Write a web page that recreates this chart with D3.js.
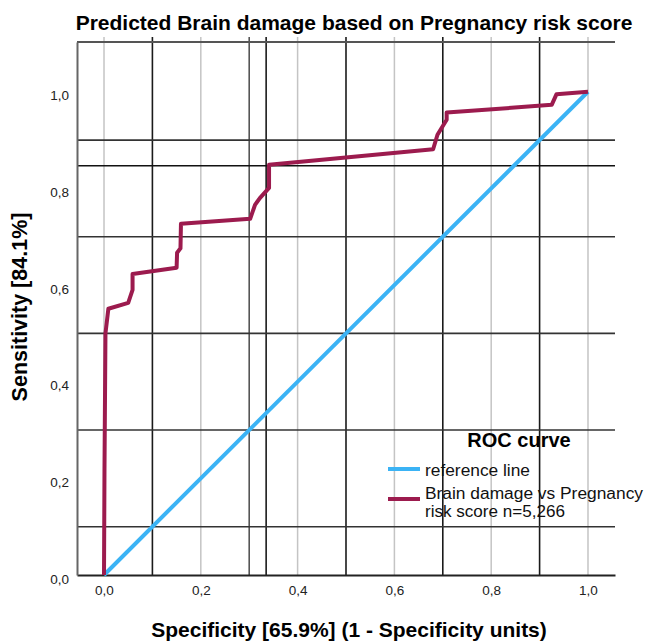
<!DOCTYPE html>
<html>
<head>
<meta charset="utf-8">
<script src="https://cdn.jsdelivr.net/npm/d3@7"></script>
<style>
  body { margin: 0; background: #fff; }
  text { font-family: "Liberation Sans", Arial, sans-serif; }
</style>
</head>
<body>
<div class="graph"></div>
<script>
// ROC curve points (1 - specificity, sensitivity)
var rocFpr = [0, 0.001, 0.002, 0.003, 0.009, 0.050, 0.059, 0.059, 0.150, 0.151, 0.158, 0.159,
              0.302, 0.312, 0.322, 0.341, 0.341, 0.680, 0.689, 0.708, 0.708, 0.925, 0.935, 1];
var rocTpr = [0, 0.22, 0.36, 0.50, 0.551, 0.563, 0.590, 0.623, 0.636, 0.667, 0.676, 0.727,
              0.737, 0.766, 0.780, 0.801, 0.849, 0.881, 0.911, 0.942, 0.957, 0.973, 0.995, 1];

var refFpr = [0, 1],
    refTpr = [0, 1];

var xTicks = [0, 0.2, 0.4, 0.6, 0.8, 1.0],
    yTicks = [0, 0.2, 0.4, 0.6, 0.8, 1.0];

// reference lines drawn across the plot
var vLines = [0.1, 0.3, 0.335, 0.5, 0.7, 0.9],
    hLines = [0.1, 0.3, 0.5, 0.7, 0.847, 0.9];

var seriesNames = ["reference line", "Brain damage vs Pregnancy", "risk score n=5,266"];

var width = 646,
    height = 641;

var svg = d3.select('.graph').append("svg")
    .attr("width", width)
    .attr("height", height);

var x = d3.scaleLinear().domain([-0.0558, 1.0558]).range([77, 615]),
    y = d3.scaleLinear().domain([0, 1.103]).range([575, 42]);

var fmt = function(d) { return d3.format(".1f")(d).replace(".", ","); };

// light gridlines at major x ticks
svg.append("g").selectAll("line")
    .data(xTicks)
    .enter().append("line")
    .attr("x1", function(d) { return x(d); })
    .attr("x2", function(d) { return x(d); })
    .attr("y1", y(0))
    .attr("y2", 37)
    .attr("stroke", "#c4c4c4")
    .attr("stroke-width", 1.5);

// vertical reference lines
svg.append("g").selectAll("line")
    .data(vLines)
    .enter().append("line")
    .attr("x1", function(d) { return x(d); })
    .attr("x2", function(d) { return x(d); })
    .attr("y1", y(0))
    .attr("y2", 37)
    .attr("stroke", function(d) { return d == 0.3 ? "#555" : "#1a1a1a"; })
    .attr("stroke-width", 1.6);

// horizontal reference lines
svg.append("g").selectAll("line")
    .data(hLines)
    .enter().append("line")
    .attr("x1", 77)
    .attr("x2", 615)
    .attr("y1", function(d) { return y(d); })
    .attr("y2", function(d) { return y(d); })
    .attr("stroke", function(d) { return d == 0.847 ? "#111" : "#333"; })
    .attr("stroke-width", 1.6);

// top frame line
svg.append("line")
    .attr("x1", 77).attr("x2", 615)
    .attr("y1", y(1.103)).attr("y2", y(1.103))
    .attr("stroke", "#555")
    .attr("stroke-width", 2);

// axes
var xAxis = svg.append("g")
    .attr("transform", "translate(0," + y(0) + ")")
    .call(d3.axisBottom(x).tickValues(xTicks).tickFormat(fmt).tickSize(0).tickPadding(10));

var yAxis = svg.append("g")
    .attr("transform", "translate(77,0)")
    .call(d3.axisLeft(y).tickValues(yTicks).tickFormat(fmt).tickSize(0).tickPadding(8));

xAxis.select(".domain").attr("stroke", "#222").attr("stroke-width", 2);
yAxis.select(".domain").attr("stroke", "#666").attr("stroke-width", 2);

svg.selectAll(".tick text")
    .attr("font-family", "Liberation Sans, Arial, sans-serif")
    .attr("font-size", 13.5)
    .attr("fill", "#222");
yAxis.selectAll(".tick text").attr("dy", "0.6em");

// curves
var line = d3.line()
    .x(function(d) { return x(d[0]); })
    .y(function(d) { return y(d[1]); });

svg.append("path")
    .datum(d3.zip(refFpr, refTpr))
    .attr("d", line)
    .attr("fill", "none")
    .attr("stroke", "#3bb3f5")
    .attr("stroke-width", 4);

svg.append("path")
    .datum(d3.zip(rocFpr, rocTpr))
    .attr("d", line)
    .attr("fill", "none")
    .attr("stroke", "#9c1b4e")
    .attr("stroke-width", 4)
    .attr("stroke-linejoin", "round");

// titles
svg.append("text")
    .attr("x", 354)
    .attr("y", 30)
    .attr("text-anchor", "middle")
    .attr("font-size", 21)
    .attr("font-weight", "bold")
    .text("Predicted Brain damage based on Pregnancy risk score");

svg.append("text")
    .attr("x", 349)
    .attr("y", 637)
    .attr("text-anchor", "middle")
    .attr("font-size", 21)
    .attr("font-weight", "bold")
    .text("Specificity [65.9%] (1 - Specificity units)");

svg.append("text")
    .attr("transform", "translate(27,307) rotate(-90)")
    .attr("text-anchor", "middle")
    .attr("font-size", 21.5)
    .attr("font-weight", "bold")
    .text("Sensitivity [84.1%]");

// legend
var legend = svg.append("g");

legend.append("text")
    .attr("x", 519)
    .attr("y", 447)
    .attr("text-anchor", "middle")
    .attr("font-size", 20)
    .attr("font-weight", "bold")
    .text("ROC curve");

legend.append("line")
    .attr("x1", 388).attr("x2", 420)
    .attr("y1", 469).attr("y2", 469)
    .attr("stroke", "#3bb3f5").attr("stroke-width", 4);

legend.append("line")
    .attr("x1", 388).attr("x2", 420)
    .attr("y1", 499).attr("y2", 499)
    .attr("stroke", "#9c1b4e").attr("stroke-width", 4);

legend.selectAll("text.item")
    .data(seriesNames)
    .enter().append("text")
    .attr("class", "item")
    .attr("x", 425)
    .attr("y", function(d, i) { return [476, 499, 517][i]; })
    .attr("font-size", 16)
    .attr("fill", "#111")
    .attr("textLength", function(d, i) { return [105, 218, 140][i]; })
    .attr("lengthAdjust", "spacingAndGlyphs")
    .text(function(d) { return d; });
</script>
</body>
</html>
